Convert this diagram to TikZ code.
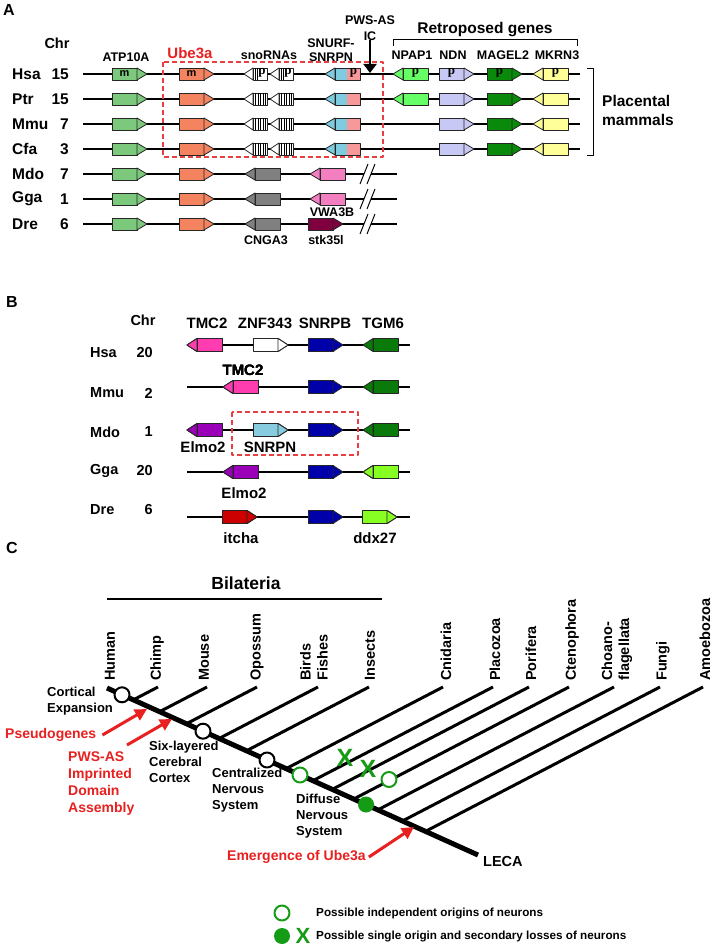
\documentclass[tikz,border=0pt]{standalone}
\usepackage{fontspec}
\setmainfont{Liberation Sans}
\newfontfamily\serifp{Liberation Serif}
\usetikzlibrary{arrows.meta}
\usepackage{xcolor}
\definecolor{AtpGreen}{HTML}{7CC87C}
\definecolor{UbeOrange}{HTML}{F4845F}
\definecolor{SnoGray}{HTML}{808080}
\definecolor{SnurfCyan}{HTML}{7FCCE0}
\definecolor{SnurfPink}{HTML}{F7999A}
\definecolor{VwaPink}{HTML}{F47FC0}
\definecolor{StkMaroon}{HTML}{80003F}
\definecolor{NpapGreen}{HTML}{66FF66}
\definecolor{NdnLav}{HTML}{C8C8F5}
\definecolor{MagelGreen}{HTML}{0A8A0A}
\definecolor{MkrnYellow}{HTML}{FFFF99}
\definecolor{TmcPink}{HTML}{FF3DB0}
\definecolor{SnrpbBlue}{HTML}{0000AA}
\definecolor{TgmGreen}{HTML}{0A7A0A}
\definecolor{ElmoPurple}{HTML}{9900B8}
\definecolor{SnrpnCyan}{HTML}{88CCE0}
\definecolor{LimeGreen}{HTML}{88FF22}
\definecolor{ItchaRed}{HTML}{CC0000}
\definecolor{PaperRed}{HTML}{E8201F}
\definecolor{DashRed}{HTML}{E84040}
\definecolor{TreeGreen}{HTML}{169B16}

% half height of a gene box
\newcommand{\geneh}{6}
% gene pointing right: box left x, y, colour
\newcommand{\geneR}[3]{%
  \filldraw[gene, fill=#3] (#1,{#2-\geneh}) rectangle ({#1+25},{#2+\geneh});
  \filldraw[gene, fill=#3] ({#1+25},{#2-\geneh}) -- ({#1+35},#2) -- ({#1+25},{#2+\geneh}) -- cycle;}
% gene pointing left: tip x, y, colour
\newcommand{\geneL}[3]{%
  \filldraw[gene, fill=#3] (#1,#2) -- ({#1+10},{#2-\geneh}) -- ({#1+10},{#2+\geneh}) -- cycle;
  \filldraw[gene, fill=#3] ({#1+10},{#2-\geneh}) rectangle ({#1+35},{#2+\geneh});}
% small snoRNA gene pointing left
\newcommand{\snoL}[2]{%
  \filldraw[gene, fill=white] (#1,#2) -- ({#1+9},{#2-\geneh}) -- ({#1+9},{#2+\geneh}) -- cycle;
  \filldraw[gene, fill=white] ({#1+9},{#2-\geneh}) rectangle ({#1+23},{#2+\geneh});}
% two-coloured SNURF-SNRPN gene
\newcommand{\snurf}[2]{%
  \filldraw[gene, fill=SnurfCyan] (#1,#2) -- ({#1+10},{#2-\geneh}) -- ({#1+10},{#2+\geneh}) -- cycle;
  \fill[SnurfCyan] ({#1+10},{#2-\geneh}) rectangle ({#1+22},{#2+\geneh});
  \fill[SnurfPink] ({#1+22},{#2-\geneh}) rectangle ({#1+35},{#2+\geneh});
  \draw[gene] ({#1+10},{#2-\geneh}) rectangle ({#1+35},{#2+\geneh});}

\begin{document}
\begin{tikzpicture}[x=1pt, y=-1pt, line join=round]
    \tikzstyle{gene} = [draw=black!85, line width=0.8pt]
    \tikzstyle{chrom} = [line width=2pt]
    \tikzstyle{panel} = [font=\fontsize{16}{18}\selectfont\bfseries, inner sep=0pt]
    \tikzstyle{species} = [font=\fontsize{15.5}{18}\selectfont\bfseries, inner sep=0pt]
    \tikzstyle{genelbl} = [font=\fontsize{12.5}{14}\selectfont\bfseries, inner sep=0pt, align=center]
    \tikzstyle{genelblB} = [font=\fontsize{15}{17}\selectfont\bfseries, inner sep=0pt]
    \tikzstyle{inm} = [font=\fontsize{11}{12}\selectfont\bfseries, inner sep=0pt]
    \tikzstyle{inp} = [font=\fontsize{13}{14}\selectfont\serifp\bfseries, inner sep=0pt]
    \tikzstyle{redbox} = [draw=DashRed, line width=1.3pt, dash pattern=on 5pt off 3pt]
    \tikzstyle{trunk} = [line width=5pt]
    \tikzstyle{branch} = [line width=3pt]
    \tikzstyle{tiplbl} = [font=\fontsize{14.5}{17}\selectfont\bfseries, rotate=90, anchor=west, inner sep=0pt, align=left]
    \tikzstyle{note} = [font=\fontsize{13}{16}\selectfont\bfseries, align=left, inner sep=0pt, anchor=west]
    \tikzstyle{rednote} = [font=\fontsize{14}{17}\selectfont\bfseries, text=PaperRed, align=left, inner sep=0pt, anchor=west]
    \tikzstyle{redarrow} = [PaperRed, line width=3pt, -{Triangle[length=12pt, width=12pt]}]
    \tikzstyle{bcirc} = [circle, draw=black, fill=white, line width=2pt, minimum size=15pt, inner sep=0pt]
    \tikzstyle{gcirc} = [circle, draw=TreeGreen, fill=white, line width=2pt, minimum size=15pt, inner sep=0pt]
    \tikzstyle{gdot} = [circle, fill=TreeGreen, minimum size=16pt, inner sep=0pt]
    \tikzstyle{gx} = [font=\fontsize{25}{25}\selectfont\bfseries, text=TreeGreen, inner sep=0pt]
    \tikzstyle{legend} = [font=\fontsize{11.7}{14}\selectfont\bfseries, inner sep=0pt, anchor=west]

    \useasboundingbox (0,0) rectangle (712,947);
    \fill[white] (0,0) rectangle (712,947);

    % ---------------- panel A ----------------
    \node[panel] (pA) at (9,10) {A};
    \node[species, font=\fontsize{14.5}{17}\selectfont\bfseries] (chrA) at (57,43) {Chr};
    \node[genelbl] (hATP) at (126,57) {ATP10A};
    \node[genelbl, text=PaperRed, font=\fontsize{15}{17}\selectfont\bfseries] (hUbe) at (190,53) {Ube3a};
    \node[genelbl] (hSno) at (269,55) {snoRNAs};
    \node[genelbl, font=\fontsize{12.5}{14}\selectfont\bfseries] (hSnurf) at (331,50) {SNURF-\\SNRPN};
    \node[genelbl, font=\fontsize{12.5}{15.5}\selectfont\bfseries] (hIC) at (370,28) {PWS-AS\\IC};
    \node[genelbl] (hNpap) at (412,55) {NPAP1};
    \node[genelbl] (hNdn) at (453,55) {NDN};
    \node[genelbl] (hMagel) at (503,55) {MAGEL2};
    \node[genelbl] (hMkrn) at (557,55) {MKRN3};
    \node[genelbl, font=\fontsize{15.5}{17}\selectfont\bfseries] (hRetro) at (485,30) {Retroposed genes};
    \draw[line width=1pt] (393,46) -- (393,40) -- (577,40) -- (577,46);
    \coordinate (icTip) at (370,73);
    \draw[line width=2pt, -{Triangle[length=9pt, width=13pt]}] (hIC.south) -- (icTip);

    % placental mammals
    \foreach \sp/\chr/\y in {Hsa/15/74, Ptr/15/99, Mmu/7/124, Cfa/3/149}{
      \node[species, anchor=west] (A\sp) at (12,\y) {\sp};
      \node[species, anchor=east] (Ac\sp) at (69,\y) {\chr};
      \draw[chrom] (83,\y) -- (580,\y);
      \geneR{112}{\y}{AtpGreen}
      \geneR{179}{\y}{UbeOrange}
      \snoL{244}{\y}
      \snoL{270}{\y}
      \snurf{325}{\y}
      \geneR{439}{\y}{NdnLav}
      \geneR{487}{\y}{MagelGreen}
      \geneL{533}{\y}{MkrnYellow}
    }
    \geneL{393}{74}{NpapGreen}
    \geneL{393}{99}{NpapGreen}
    % hatched snoRNAs
    \foreach \y in {99,124,149}{
      \foreach \s in {255.5,258,260.5,263,265.5,281.5,284,286.5,289,291.5}
        \draw[line width=0.8pt] (\s,{\y-6}) -- ++(0,12);
    }
    % imprinting marks in human
    \foreach \s in {255,257,281,283}
      \draw[line width=0.8pt] (\s,68) -- ++(0,12);
    \node[inm] (m1) at (124.5,73.5) {m};
    \node[inm] (m2) at (191.5,73.5) {m};
    \foreach \px [count=\k] in {262,288,353.5,415.5,451.5,499.5,555.5}
      \node[inp] (p\k) at (\px,73) {p};
    \draw[redbox] (163,62) rectangle (383,157);
    \draw[line width=1pt] (587,69) -- (593,69) -- (593,155) -- (587,155);
    \node[species, align=left, anchor=west, font=\fontsize{15.5}{19}\selectfont\bfseries] (placental) at (602,110) {Placental\\mammals};

    % other vertebrates
    \foreach \sp/\chr/\y in {Mdo/7/174, Gga/1/199, Dre/6/224}{
      \node[species, anchor=west] (A\sp) at (12,\y) {\sp};
      \node[species, anchor=east] (Ac\sp) at (69,\y) {\chr};
      \draw[chrom] (83,\y) -- (364,\y);
      \draw[chrom] (371,\y) -- (397,\y);
      \draw[line width=1pt] (360,{\y+10}) -- (368,{\y-10});
      \draw[line width=1pt] (367,{\y+10}) -- (375,{\y-10});
      \geneR{112}{\y}{AtpGreen}
      \geneR{179}{\y}{UbeOrange}
      \geneL{245}{\y}{SnoGray}
    }
    \geneL{310}{174}{VwaPink}
    \geneL{310}{199}{VwaPink}
    \geneR{308}{224}{StkMaroon}
    \node[genelbl] (lVwa) at (332,212) {VWA3B};
    \node[genelbl] (lCnga) at (266,240) {CNGA3};
    \node[genelbl] (lStk) at (326,240) {stk35l};

    % ---------------- panel B ----------------
    \renewcommand{\geneh}{6.5}
    \node[panel] (pB) at (12,302) {B};
    \node[species, font=\fontsize{14.5}{17}\selectfont\bfseries] (chrB) at (143,320) {Chr};
    \node[genelblB] (bTmc) at (207,323) {TMC2};
    \node[genelblB] (bZnf) at (265,323) {ZNF343};
    \node[genelblB] (bSnrpb) at (325,323) {SNRPB};
    \node[genelblB] (bTgm) at (383,323) {TGM6};
    \foreach \sp/\chr/\y/\ly in {Hsa/20/345/353, Mmu/2/387/393, Mdo/1/430/432, Gga/20/472/471, Dre/6/517/510}{
      \node[species, font=\fontsize{14.5}{17}\selectfont\bfseries, anchor=west] (B\sp) at (90,\ly) {\sp};
      \node[species, font=\fontsize{14.5}{17}\selectfont\bfseries, anchor=east] (Bc\sp) at (153,\ly) {\chr};
      \draw[chrom] (187,\y) -- (410,\y);
      \geneR{308}{\y}{SnrpbBlue}
    }
    \foreach \y in {345,387,430}
      \geneL{363}{\y}{TgmGreen}
    \geneL{187}{345}{TmcPink}
    \geneR{253}{345}{white}
    \geneL{223}{387}{TmcPink}
    \geneL{187}{430}{ElmoPurple}
    \geneR{253}{430}{SnrpnCyan}
    \geneL{223}{472}{ElmoPurple}
    \geneL{363}{472}{LimeGreen}
    \geneR{222}{517}{ItchaRed}
    \geneR{362}{517}{LimeGreen}
    \node[genelblB] (lTmc) at (243,370) {TMC2};
    \node[genelblB] (lElmoA) at (203,447) {Elmo2};
    \node[genelblB] (lSnrpn) at (270,447) {SNRPN};
    \node[genelblB] (lElmoB) at (244,493) {Elmo2};
    \node[genelblB] (lItcha) at (241,538) {itcha};
    \node[genelblB] (lDdx) at (375,538) {ddx27};
    \draw[redbox, line width=1.6pt] (232,412) rectangle (358,455);

    % ---------------- panel C ----------------
    \node[panel] (pC) at (12,548) {C};
    \node[font=\fontsize{17.5}{20}\selectfont\bfseries, inner sep=0pt] (bilat) at (246,583) {Bilateria};
    \draw[line width=1.5pt] (107,599) -- (382,599);
    \coordinate (top) at (107,688);
    \coordinate (root) at (478,855);
    \foreach \nm/\x in {chimp/158, mouse/207, opossum/257, birds/318, insects/369, cnidaria/443, placozoa/493, porifera/529, cteno/569, choano/614, fungi/660, amoebo/703}{
      \coordinate (t\nm) at (\x,687);
      \coordinate (s\nm) at ({\x-100},739);
      \coordinate (b\nm) at (intersection of top--root and t\nm--s\nm);
      \draw[branch] (b\nm) -- (t\nm);
    }
    \draw[trunk] (top) -- (root);
    \foreach \x/\txt [count=\i] in {110/Human, 157/Chimp, 204/Mouse, 257/Opossum, 314/{Birds\\Fishes}, 370/Insects, 446/Cnidaria, 495/Placozoa, 531/Porifera, 572/Ctenophora, 617/{Choano-\\flagellata}, 663/Fungi, 705/Amoebozoa}
      \node[tiplbl] (tip\i) at (\x,681) {\txt};
    \node[font=\fontsize{14.5}{17}\selectfont\bfseries, inner sep=0pt, anchor=west] (leca) at (483,861) {LECA};

    % events on the tree
    \node[bcirc] (cort) at (122,694.8) {};
    \node[bcirc] (six) at (203,731.2) {};
    \node[bcirc] (cns) at (267,760) {};
    \node[gcirc] (gOpenA) at (300,775) {};
    \node[gcirc] (gOpenB) at (389,779.5) {};
    \node[gdot] (gDot) at (366,804.5) {};
    \node[gx] (xA) at (345,758) {X};
    \node[gx] (xB) at (368,768.5) {X};

    \node[note] (nCort) at (47,701) {Cortical\\Expansion};
    \node[note] (nSix) at (149,762) {Six-layered\\Cerebral\\Cortex};
    \node[note] (nCns) at (212,790) {Centralized\\Nervous\\System};
    \node[note] (nDiff) at (296,816.5) {Diffuse\\Nervous\\System};

    \node[rednote] (pseudo) at (5,735) {Pseudogenes};
    \node[rednote] (pws) at (68,783.5) {PWS-AS\\Imprinted\\Domain\\Assembly};
    \node[rednote] (emerge) at (227,857) {Emergence of Ube3a};
    \coordinate (pseudoTip) at (147,709);
    \coordinate (pwsStart) at (127,745);
    \coordinate (pwsTip) at (172,719);
    \coordinate (emergeTip) at (414,827);
    \draw[redarrow] ([xshift=6pt]pseudo.east) -- (pseudoTip);
    \draw[redarrow] (pwsStart) -- (pwsTip);
    \draw[redarrow] ([xshift=3pt]emerge.east) -- (emergeTip);

    % legend
    \node[gcirc] (lgOpen) at (282,913) {};
    \node[legend] (lgTxtA) at (316,913) {Possible independent origins of neurons};
    \node[gdot] (lgDot) at (282,936) {};
    \node[gx, font=\fontsize{22}{22}\selectfont\bfseries] (lgX) at (303,936) {X};
    \node[legend] (lgTxtB) at (316,936) {Possible single origin and secondary losses of neurons};
\end{tikzpicture}
\end{document}
